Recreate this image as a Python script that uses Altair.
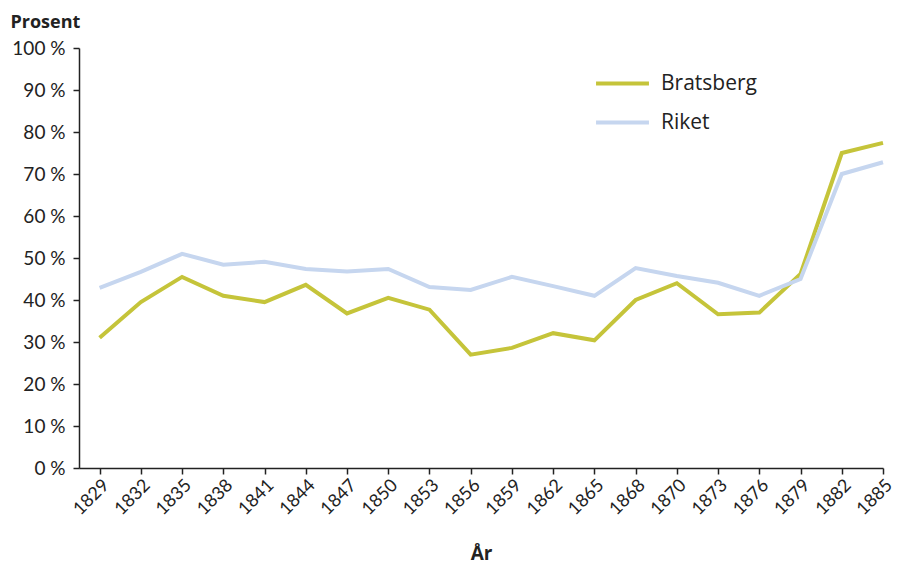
import json
import altair as alt
import pandas as pd

years = ["1829", "1832", "1835", "1838", "1841", "1844", "1847", "1850", "1853", "1856",
         "1859", "1862", "1865", "1868", "1870", "1873", "1876", "1879", "1882", "1885"]
bratsberg = [31.0, 39.5, 45.5, 41.0, 39.5, 43.6, 36.8, 40.5, 37.7, 27.0,
             28.6, 32.1, 30.4, 40.0, 44.0, 36.6, 37.0, 46.2, 75.0, 77.4]
riket = [42.9, 46.7, 51.0, 48.4, 49.1, 47.4, 46.8, 47.4, 43.1, 42.4,
         45.5, 43.3, 41.0, 47.6, 45.7, 44.1, 41.0, 45.0, 70.0, 72.8]
series = ["Bratsberg", "Riket"]
colors = ["#c5c43a", "#c6d6ef"]

rows = []
for name, vals in zip(series, [bratsberg, riket]):
    for i, (yr, v) in enumerate(zip(years, vals)):
        rows.append({"idx": i, "year": yr, "value": v, "serie": name})
df = pd.DataFrame(rows)

label_expr = json.dumps(years) + "[round(datum.value)]"

chart = alt.Chart(df).mark_line(strokeWidth=4, strokeJoin="miter").encode(
    x=alt.X("idx:Q",
            scale=alt.Scale(domain=[-0.5, len(years) - 1], nice=False, zero=False),
            axis=alt.Axis(values=list(range(len(years))), labelExpr=label_expr,
                          labelAngle=-45, labelFont="Lato", labelFontSize=18,
                          labelOverlap=False, labelBound=False,
                          labelColor="#222222", grid=False, tickSize=6,
                          domainColor="#222222", tickColor="#222222",
                          domainWidth=1.5, tickWidth=1.5, labelPadding=2,
                          title="År", titleFont="Open Sans", titleFontSize=19,
                          titleFontWeight="bold", titleColor="#222222",
                          titleBaseline="middle", titleY=85)),
    y=alt.Y("value:Q",
            scale=alt.Scale(domain=[0, 100], nice=False),
            axis=alt.Axis(values=list(range(0, 101, 10)), labelExpr="datum.value + ' %'",
                          labelFont="Lato", labelFontSize=19, labelColor="#222222",
                          grid=False, tickSize=6, labelPadding=8,
                          domainColor="#222222", tickColor="#222222",
                          domainWidth=1.5, tickWidth=1.5,
                          title="Prosent", titleFont="Open Sans", titleFontSize=18,
                          titleFontWeight="bold", titleColor="#222222",
                          titleAngle=0, titleAlign="left", titleBaseline="top",
                          titleX=-69, titleY=-35)),
    color=alt.Color("serie:N",
                    scale=alt.Scale(domain=series, range=colors),
                    legend=alt.Legend(title=None, orient="none", legendX=515, legendY=7,
                                      symbolType="stroke", symbolSize=2800,
                                      symbolStrokeWidth=4, labelFont="Open Sans",
                                      labelFontSize=21, labelColor="#222222",
                                      labelOffset=10, rowPadding=0)),
).properties(
    width=804, height=420,
    autosize=alt.AutoSizeParams(type="none"),
    padding={"left": 71, "top": 40, "right": 12, "bottom": 100},
).configure_view(stroke=None)

chart.save("out.html", embed_options={"renderer": "svg", "actions": False})
